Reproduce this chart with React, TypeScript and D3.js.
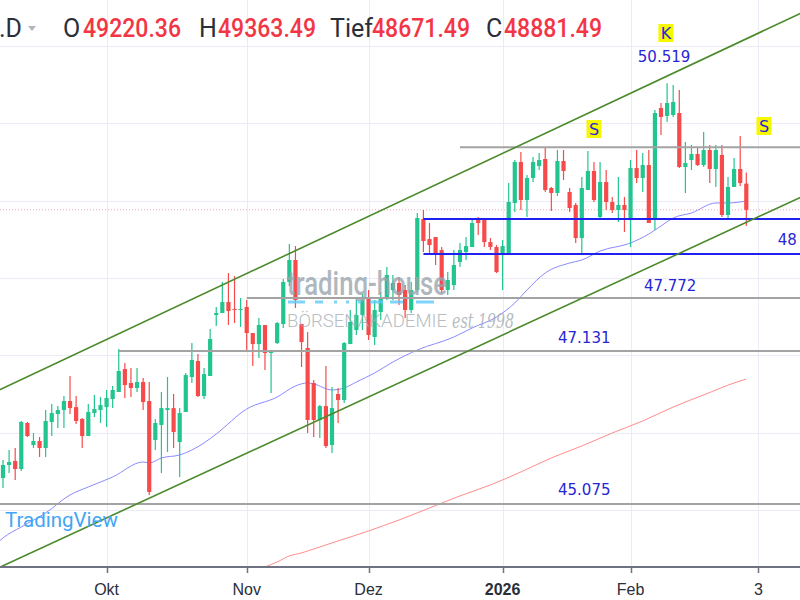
import React from "react";
import * as d3 from "d3";

const W = 800;
const H = 600;
const AXIS_Y = 567;

// Daily OHLC, oldest first (index 0 = first visible session)
const opens = [45414,45582,45634,45530,46125,45840,45892,45802,46138,46241,46293,46409,46331,46177,45956,46254,46293,46331,46435,46526,46823,46642,46578,46655,46409,45905,46099,46293,46318,45879,46267,46720,46927,46474,46733,47521,47547,47689,47599,47586,47625,47288,47146,47392,47030,47159,47405,47948,48233,47405,47095,46642,46164,46344,45840,46500,46422,47146,47327,47521,47728,47237,47560,47754,47845,47935,47845,47586,47845,48763,48504,48530,48362,47845,47909,48207,48336,48401,48750,48750,48465,48401,48297,48323,48970,49500,49009,49293,49448,49539,49164,49099,49513,49112,48944,48517,49138,49384,48789,49241,48983,48879,48944,48750,49422,49293,49461,48750,50198,50095,50108,50134,49436,49526,49603,49461,49655,49410,49591,48815,49177,49410,49220.36];
const highs = [45647,45776,45802,46151,46138,45995,45943,46293,46370,46344,46474,46733,46474,46190,46370,46487,46461,46552,46603,47082,46900,46836,46836,46707,46655,46177,46526,46720,46500,46318,46771,47159,47017,46836,47340,47625,47948,48064,48025,47741,47715,47288,47483,47392,47069,47431,47987,48439,48413,47405,47301,46681,46357,46862,46590,46578,47172,47586,47715,47793,47845,47715,47819,48142,48038,48012,47909,47948,48840,48879,48711,48530,48401,48077,48362,48453,48530,48776,48789,48750,48517,48426,48491,49228,49526,49629,49332,49565,49616,49694,49177,49655,49655,49164,48970,49306,49642,49500,49500,49397,49048,49306,49048,49526,49655,49616,49655,50173,50263,50519,50496,50431,49759,49720,49694,49888,49720,49720,49720,49306,49552,49836,49363.49];
const lows = [45285,45478,45388,45504,45943,45802,45686,45686,45956,46060,46060,46241,46112,45802,45956,46202,46125,46073,46318,46526,46448,46461,46526,46293,45194,45776,45478,45750,45802,45426,46267,46642,46461,46435,46733,47379,47547,47392,47418,47366,47068,46862,46966,46810,46513,47146,47353,47896,47612,46849,45995,45943,45930,45802,45737,46125,46383,47146,47263,47327,47198,47134,47457,47715,47715,47651,47483,47547,47819,48336,48297,48168,47806,47780,47845,48142,48233,48401,48556,48401,48362,48064,47845,48323,48853,48879,48789,49241,49397,49112,48866,49060,49267,48853,48452,48323,49138,48983,48776,48879,48840,48724,48595,48401,49228,49112,48711,48621,49849,50018,50082,49423,49099,49397,49448,49436,49228,49177,48789,48776,49177,49190,48671.49];
const closes = [45582,45621,45530,46138,45956,45892,45802,46151,46254,46293,46409,46318,46151,45956,46267,46306,46357,46448,46552,46797,46616,46578,46655,46396,45233,46125,46318,46318,46008,46254,46745,46940,46474,46758,47211,47547,47689,47573,47586,47599,47288,47146,47392,47030,47056,47418,47948,48233,47715,47172,46164,46164,46344,45827,46318,46422,47159,47431,47521,47715,47263,47586,47741,48038,47935,47780,47586,47845,48776,48478,48426,48323,47845,47974,48168,48362,48413,48711,48711,48465,48401,48077,48413,48983,49500,49009,49293,49500,49526,49138,49099,49513,49384,48905,48517,49164,49384,49009,49241,48983,48879,48944,48879,49422,49293,49461,48711,50134,50082,50263,50276,49436,49487,49603,49461,49655,49410,49655,48815,49177,49410,49228,48881.49];

// Header values (last session)
const legendNames = ["O", "H", "Tief", "C"];
const legendValues = [49220.36, 49363.49, 48671.49, 48881.49];

// Time axis
const tickIndex = [17, 40, 60, 82, 103, 124];
const tickLabels = ["Okt", "Nov", "Dez", "2026", "Feb", "3"];
const tickBold = [false, false, false, true, false, false];

// Price grid
const gridPrices = [45000, 46000, 47000, 48000, 49000, 50000, 51000];

// Moving averages: [index, value]
const blueMA: [number, number][] = [[-1,44570],[0,44639],[3,44781],[7,44962],[11,45195],[14,45298],[18,45427],[23,45621],[24,45608],[26,45673],[29,45712],[33,45867],[35,45983],[40,46306],[45,46461],[48,46604],[50,46643],[51,46630],[54,46552],[56,46578],[58,46655],[61,46772],[64,46914],[68,47069],[74,47237],[77,47354],[81,47496],[84,47677],[86,47845],[89,48065],[93,48194],[95,48233],[98,48349],[103,48453],[106,48569],[108,48673],[110,48776],[113,48841],[117,48970],[119,48970],[122,48996]];
const redMA: [number, number][] = [[43,44264],[45,44328],[47,44406],[49,44445],[51,44496],[55,44600],[60,44729],[65,44871],[70,45026],[75,45182],[80,45324],[85,45492],[90,45673],[95,45828],[100,45996],[105,46151],[110,46332],[115,46488],[120,46643],[122,46694]];

// Trend channel anchors: [index, price]
const channelUpper: [number, number][] = [[0, 46576], [122, 51093]];
const channelLower: [number, number][] = [[0, 44279], [122, 48719]];

// Horizontal levels
const grayLevelFrom = [75, 40, 19, -5];
const grayLevelPrice = [49690, 47742, 47057, 45078];
const blueLevelFrom = [69, 69];
const blueLevelPrice = [48763, 48311];

// Text labels: [index, price, text]
const levelLabels: [number, number, string][] = [
  [108.5, 50858, "50.519"],
  [109.5, 47897, "47.772"],
  [95.4, 47225, "47.131"],
  [95.4, 45259, "45.075"],
];
const edgeLabel: [number, number, string] = [130.3, 48492, "48"];
const markerLabels: [number, number, string][] = [
  [108.8, 51168, "K"],
  [97, 49927, "S"],
  [124.9, 49966, "S"],
];

const UP = "#22c48f";
const DOWN = "#f74a4a";

export default function App() {
  const x = d3.scaleLinear().domain([0, 122]).range([3, 746.3]);
  const y = d3.scaleLinear().domain([44263, 51595]).range([AXIS_Y, 0]);

  const maLine = d3
    .line<[number, number]>()
    .x((d) => x(d[0]))
    .y((d) => y(d[1]))
    .curve(d3.curveMonotoneX);

  const channel = (pts: [number, number][]) => {
    const s = d3.scaleLinear().domain([pts[0][0], pts[1][0]]).range([pts[0][1], pts[1][1]]);
    const i0 = x.invert(-10);
    const i1 = x.invert(W + 10);
    return { x1: x(i0), y1: y(s(i0)), x2: x(i1), y2: y(s(i1)) };
  };
  const cu = channel(channelUpper);
  const cl = channel(channelLower);

  const lastClose = closes[closes.length - 1];
  const legendX = [63, 199, 330, 486];
  const valueX = [83, 218, 372, 504];

  return (
    <>
      <style>{`body{margin:0;}`}</style>
      <svg width={W} height={H} style={{ display: "block", background: "#fff" }}>
        <defs>
          <clipPath id="plot">
            <rect x={0} y={0} width={W} height={AXIS_Y - 1} />
          </clipPath>
        </defs>
        {/* grid */}
        <g stroke="#ebebf6" strokeWidth={1}>
          {gridPrices.map((p) => (
            <line key={p} x1={0} x2={W} y1={Math.round(y(p)) + 0.5} y2={Math.round(y(p)) + 0.5} />
          ))}
          {tickIndex.map((t) => (
            <line key={t} x1={Math.round(x(t)) + 0.5} x2={Math.round(x(t)) + 0.5} y1={0} y2={AXIS_Y} />
          ))}
        </g>

        <g clipPath="url(#plot)">
          {/* current price line */}
          <line x1={0} x2={W} y1={y(lastClose)} y2={y(lastClose)} stroke="#f2a0bd" strokeWidth={1} strokeDasharray="1 2" />

          {/* moving averages */}
          <path d={maLine(redMA) || ""} fill="none" stroke="#ff8c8c" strokeWidth={1} />
          <path d={maLine(blueMA) || ""} fill="none" stroke="#8a8aff" strokeWidth={1} />

          {/* candles */}
          {opens.map((o, i) => {
            const c = closes[i];
            const up = c >= o;
            const col = up ? UP : DOWN;
            const cx = x(i);
            const top = y(Math.max(o, c));
            const bot = y(Math.min(o, c));
            return (
              <g key={i}>
                <line x1={cx} x2={cx} y1={y(highs[i])} y2={y(lows[i])} stroke={col} strokeWidth={1.2} />
                <rect x={cx - 2.1} y={top} width={4.2} height={Math.max(1, bot - top)} fill={col} />
              </g>
            );
          })}

          {/* horizontal levels */}
          {grayLevelPrice.map((p, k) => (
            <line key={"g" + k} x1={x(grayLevelFrom[k])} x2={W} y1={y(p)} y2={y(p)} stroke="#a3a3a3" strokeWidth={2} />
          ))}
          {blueLevelPrice.map((p, k) => (
            <line key={"b" + k} x1={x(blueLevelFrom[k])} x2={W} y1={y(p)} y2={y(p)} stroke="#2020f0" strokeWidth={2} />
          ))}

          {/* trend channel */}
          <line {...cu} stroke="#4b8a2b" strokeWidth={1.6} />
          <line {...cl} stroke="#4b8a2b" strokeWidth={1.6} />
        </g>

        {/* watermark trading-house */}
        <g opacity={0.78}>
          <text x={287} y={295} fontFamily="Roboto, sans-serif" fontSize={33} fontWeight={500} fill="#98a4ad" textLength={160} lengthAdjust="spacingAndGlyphs">
            trading-house
          </text>
          <line x1={288} x2={446} y1={302} y2={302} stroke="#5cc8fb" strokeWidth={3} strokeDasharray="17 10 8 11 3 9 3 9 3 9 13 7 13 13 18" />
          <text x={287} y={327} fontFamily="Roboto, sans-serif" fontSize={19} fontWeight={300} fill="#a3abb2" textLength={160} lengthAdjust="spacingAndGlyphs">
            BÖRSENAKADEMIE
          </text>
          <text x={452} y={328} fontFamily="DejaVu Serif, serif" fontStyle="italic" fontSize={20} fill="#a3abb2" textLength={62} lengthAdjust="spacingAndGlyphs">
            est 1998
          </text>
        </g>

        {/* level labels */}
        {levelLabels.map(([i, p, t], k) => (
          <text key={"l" + k} x={x(i)} y={y(p)} dy="0.36em" textAnchor="middle" fontFamily="DejaVu Sans, sans-serif" fontSize={15} fill="#2626d6">
            {t}
          </text>
        ))}
        <text x={Math.min(x(edgeLabel[0]), W - 3)} y={y(edgeLabel[1])} dy="0.36em" textAnchor="end" fontFamily="DejaVu Sans, sans-serif" fontSize={15} fill="#2626d6">
          {edgeLabel[2]}
        </text>
        {markerLabels.map(([i, p, t], k) => (
          <g key={"m" + k}>
            <rect x={x(i) - 7.5} y={y(p) - 9} width={15} height={18} fill="#f7f700" />
            <text x={x(i)} y={y(p)} dy="0.36em" textAnchor="middle" fontFamily="DejaVu Sans, sans-serif" fontSize={16} fill="#2626d6">
              {t}
            </text>
          </g>
        ))}

        {/* TradingView watermark */}
        <text x={5} y={527} fontFamily="Roboto, sans-serif" fontSize={20.5} fill="#42a5f5">
          TradingView
        </text>

        {/* time axis */}
        <line x1={0} x2={W} y1={AXIS_Y} y2={AXIS_Y} stroke="#6f7280" strokeWidth={2} />
        {tickIndex.map((t, k) => (
          <g key={"t" + k}>
            <line x1={Math.round(x(t)) + 0.5} x2={Math.round(x(t)) + 0.5} y1={AXIS_Y} y2={AXIS_Y + 6} stroke="#6f7280" strokeWidth={1.5} />
            <text x={x(t)} y={595} textAnchor="middle" fontFamily="Liberation Sans, Arial, sans-serif" fontSize={16} fontWeight={tickBold[k] ? 700 : 400} fill="#2a2e39">
              {tickLabels[k]}
            </text>
          </g>
        ))}

        {/* header legend */}
        <text x={-1} y={37} fontFamily="Roboto, sans-serif" fontSize={25} fill="#2a2e39">.D</text>
        <path d="M28,26 L36,26 L32,31 Z" fill="#b2b5be" />
        {legendNames.map((n, k) => (
          <g key={"h" + k}>
            <text x={legendX[k]} y={37} fontFamily="Roboto, sans-serif" fontSize={25} fill="#2a2e39">{n}</text>
            <text x={valueX[k]} y={37} fontFamily="Roboto, sans-serif" fontSize={25} fontWeight={500} fill="#f23645" textLength={98} lengthAdjust="spacingAndGlyphs">
              {legendValues[k].toFixed(2)}
            </text>
          </g>
        ))}
      </svg>
    </>
  );
}
